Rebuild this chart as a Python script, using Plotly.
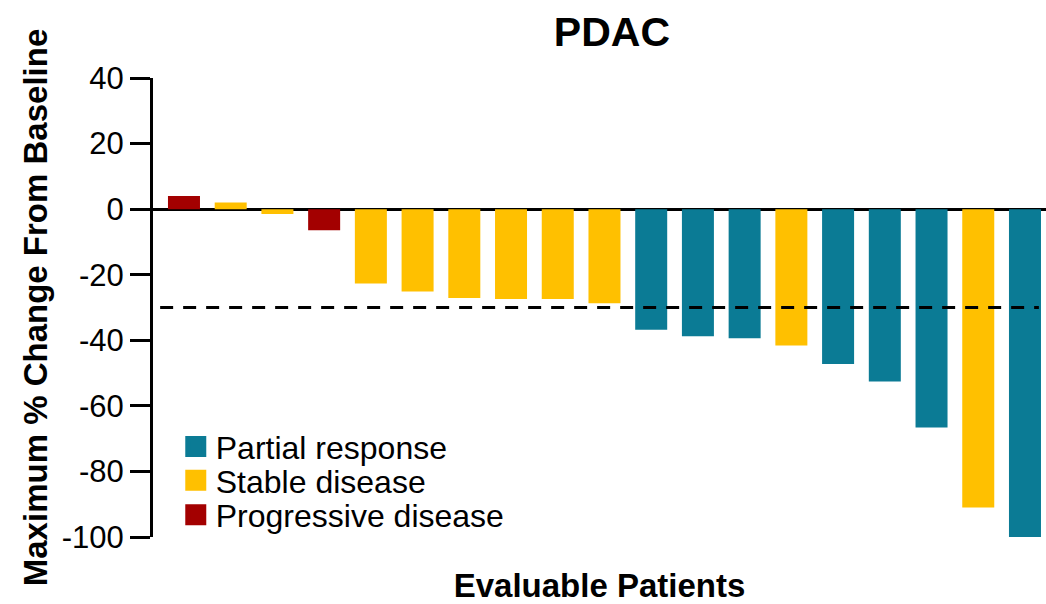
import plotly.graph_objects as go

# Best percentage change from baseline per evaluable patient (waterfall order)
pct_change = [4, 2, -1.5, -6.4, -22.7, -25.1, -27.1, -27.4, -27.4, -28.7,
              -36.8, -38.8, -39.4, -41.6, -47.2, -52.6, -66.6, -91, -100]
response = ["PD", "SD", "SD", "PD", "SD", "SD", "SD", "SD", "SD", "SD",
            "PR", "PR", "PR", "SD", "PR", "PR", "PR", "SD", "PR"]

response_names = {"PR": "Partial response", "SD": "Stable disease", "PD": "Progressive disease"}
response_colors = {"PR": "#0B7B95", "SD": "#FFC000", "PD": "#A30000"}
legend_order = ["PR", "SD", "PD"]

y_ticks = [40, 20, 0, -20, -40, -60, -80, -100]
threshold = -30  # partial-response cut-off

FONT = "Liberation Sans, Arial, sans-serif"

fig = go.Figure()

patient_idx = list(range(len(pct_change)))
legend_ids = ["legend", "legend2", "legend3"]
legend_rows_y = [0.197, 0.123, 0.048]

for key, lg in zip(legend_order, legend_ids):
    xs = [i for i in patient_idx if response[i] == key]
    ys = [pct_change[i] for i in xs]
    fig.add_trace(go.Bar(
        x=xs, y=ys, width=0.685,
        marker=dict(color=response_colors[key], line=dict(width=0)),
        name=response_names[key], showlegend=False,
    ))
    # legend proxy: large square swatch
    fig.add_trace(go.Scatter(
        x=[None], y=[None], mode="markers",
        marker=dict(symbol="square", size=16, color=response_colors[key],
                    line=dict(color=response_colors[key], width=5)),
        name=response_names[key], showlegend=True, legend=lg,
    ))

fig.add_shape(type="line", xref="paper", yref="y", x0=0.008, x1=0.992,
              y0=threshold, y1=threshold,
              line=dict(color="black", width=3, dash="13px,10px"))

legend_common = dict(
    bgcolor="rgba(0,0,0,0)", borderwidth=0, xanchor="left", yanchor="middle",
    font=dict(family=FONT, size=32, color="black"), itemsizing="trace",
)
fig.update_layout(
    width=1046, height=604,
    margin=dict(l=153, r=0, t=78, b=67),
    paper_bgcolor="white", plot_bgcolor="white",
    barmode="overlay",
    title=dict(text="<b>PDAC</b>", x=0.585, xanchor="center",
               y=1 - 32 / 604, yanchor="middle", yref="container",
               font=dict(family=FONT, size=41, color="black")),
    legend=dict(x=0.0255, y=legend_rows_y[0], **legend_common),
    legend2=dict(x=0.0255, y=legend_rows_y[1], **legend_common),
    legend3=dict(x=0.0255, y=legend_rows_y[2], **legend_common),
    xaxis=dict(range=[-0.663, 18.45], showticklabels=False, ticks="",
               showgrid=False, zeroline=False, showline=False,
               title=dict(text="<b>Evaluable Patients</b>", standoff=36,
                          font=dict(family=FONT, size=33, color="black"))),
    yaxis=dict(range=[-100, 40], tickvals=y_ticks, ticktext=[str(v) for v in y_ticks],
               ticks="outside", ticklen=20, tickwidth=3, tickcolor="black",
               showline=True, linewidth=3, linecolor="black",
               showgrid=False, zeroline=True, zerolinecolor="black", zerolinewidth=3,
               tickfont=dict(family=FONT, size=31, color="black"),
               title=dict(text="<b>Maximum % Change From Baseline</b>", standoff=5,
                          font=dict(family=FONT, size=33, color="black"))),
)

fig.write_html("out.html")
